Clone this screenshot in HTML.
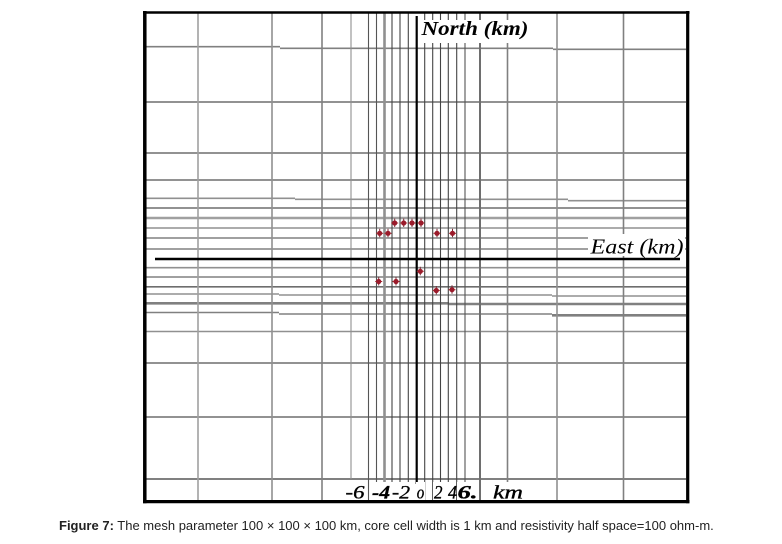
<!DOCTYPE html>
<html>
<head>
<meta charset="utf-8">
<style>
  html,body{margin:0;padding:0;background:#fff;}
  body{width:782px;height:544px;overflow:hidden;position:relative;}
  svg{position:absolute;left:0;top:0;}
</style>
</head>
<body>
<svg width="782" height="544" viewBox="0 0 782 544" xmlns="http://www.w3.org/2000/svg">
  <rect x="0" y="0" width="782" height="544" fill="#fff"/>

  <!-- Horizontal grid lines -->
  <g fill="none">
    <path d="M146 46.7 H280 M280 48.3 H553 M553 49.3 H686" stroke="#808080" stroke-width="1.6"/>
    <line x1="146" y1="102" x2="686" y2="102" stroke="#6e6e6e" stroke-width="1.6"/>
    <line x1="146" y1="153" x2="686" y2="153" stroke="#6e6e6e" stroke-width="1.6"/>
    <line x1="146" y1="180" x2="686" y2="180" stroke="#6e6e6e" stroke-width="1.6"/>
    <path d="M146 198.3 H295 M295 199.3 H568 M568 200.7 H686" stroke="#909090" stroke-width="1.6"/>
    <line x1="146" y1="208" x2="686" y2="208" stroke="#6e6e6e" stroke-width="1.6"/>
    <line x1="146" y1="218" x2="686" y2="218" stroke="#a0a0a0" stroke-width="2.6"/>
    <line x1="146" y1="228" x2="686" y2="228" stroke="#909090" stroke-width="1.6"/>
    <line x1="146" y1="238" x2="686" y2="238" stroke="#808080" stroke-width="1.6"/>
    <line x1="146" y1="249" x2="686" y2="249" stroke="#808080" stroke-width="1.6"/>
    <line x1="146" y1="267.7" x2="686" y2="267.7" stroke="#909090" stroke-width="1.6"/>
    <line x1="146" y1="277" x2="686" y2="277" stroke="#808080" stroke-width="1.6"/>
    <line x1="146" y1="286.8" x2="686" y2="286.8" stroke="#6e6e6e" stroke-width="1.6"/>
    <path d="M146 294 H279 M279 295 H552 M552 296 H686" stroke="#909090" stroke-width="1.6"/>
    <path d="M146 303.3 H449 M449 304 H686" stroke="#808080" stroke-width="2.6"/>
    <path d="M146 312.5 H279 M279 314 H552" stroke="#808080" stroke-width="1.6"/>
    <path d="M552 315.3 H686" stroke="#808080" stroke-width="2.6"/>
    <line x1="146" y1="331.5" x2="686" y2="331.5" stroke="#909090" stroke-width="1.6"/>
    <line x1="146" y1="363" x2="686" y2="363" stroke="#6e6e6e" stroke-width="1.6"/>
    <line x1="146" y1="417" x2="686" y2="417" stroke="#6e6e6e" stroke-width="1.6"/>
    <line x1="146" y1="479" x2="686" y2="479" stroke="#808080" stroke-width="2"/>
  </g>

  <!-- Vertical grid lines -->
  <g fill="none">
    <line x1="198" y1="13" x2="198" y2="500" stroke="#a0a0a0" stroke-width="1.6"/>
    <line x1="272" y1="13" x2="272" y2="500" stroke="#909090" stroke-width="1.6"/>
    <line x1="322" y1="13" x2="322" y2="500" stroke="#808080" stroke-width="1.6"/>
    <line x1="351" y1="13" x2="351" y2="479" stroke="#909090" stroke-width="1.1"/>
    <line x1="368.5" y1="13" x2="368.5" y2="500" stroke="#555" stroke-width="1.1"/>
    <line x1="376.5" y1="13" x2="376.5" y2="500" stroke="#555" stroke-width="1.1"/>
    <line x1="384.5" y1="13" x2="384.5" y2="500" stroke="#909090" stroke-width="2.6"/>
    <line x1="392" y1="13" x2="392" y2="500" stroke="#444" stroke-width="1.1"/>
    <line x1="400" y1="13" x2="400" y2="500" stroke="#444" stroke-width="1.1"/>
    <line x1="408.3" y1="13" x2="408.3" y2="500" stroke="#444" stroke-width="1.1"/>
    <line x1="424.7" y1="13" x2="424.7" y2="500" stroke="#444" stroke-width="1.1"/>
    <line x1="432.7" y1="13" x2="432.7" y2="500" stroke="#444" stroke-width="1.1"/>
    <line x1="440.5" y1="13" x2="440.5" y2="500" stroke="#444" stroke-width="1.1"/>
    <line x1="448.3" y1="13" x2="448.3" y2="500" stroke="#444" stroke-width="1.1"/>
    <line x1="456.7" y1="13" x2="456.7" y2="500" stroke="#444" stroke-width="1.1"/>
    <line x1="465" y1="13" x2="465" y2="500" stroke="#555" stroke-width="1.1"/>
    <line x1="480" y1="13" x2="480" y2="500" stroke="#6e6e6e" stroke-width="2"/>
    <line x1="507.5" y1="13" x2="507.5" y2="500" stroke="#808080" stroke-width="1.6"/>
    <line x1="557" y1="13" x2="557" y2="500" stroke="#909090" stroke-width="1.6"/>
    <line x1="623.5" y1="13" x2="623.5" y2="500" stroke="#808080" stroke-width="1.6"/>
  </g>

  <!-- Axes -->
  <line x1="155" y1="259" x2="680" y2="259" stroke="#000" stroke-width="2.5"/>
  <line x1="416.7" y1="16" x2="416.7" y2="484" stroke="#000" stroke-width="2.2"/>

  <!-- Label backgrounds -->
  <rect x="420" y="20" width="110" height="23" fill="#fff"/>
  <rect x="588" y="234" width="97" height="22" fill="#fff"/>
  <g fill="#fff">
    <rect x="344" y="482" width="23" height="18"/>
    <rect x="371" y="482" width="19" height="18"/>
    <rect x="391" y="482" width="20" height="18"/>
    <rect x="416" y="482" width="9" height="18"/>
    <rect x="433" y="482" width="10" height="18"/>
    <rect x="447" y="482" width="9" height="18"/>
    <rect x="457" y="482" width="22" height="18"/>
    <rect x="489" y="482" width="37" height="18"/>
  </g>

  <!-- Axis labels -->
  <text x="421.5" y="35" font-family="'Liberation Serif', serif" font-style="italic" font-weight="bold" font-size="20" fill="#000" textLength="107" lengthAdjust="spacingAndGlyphs">North (km)</text>
  <text x="590.5" y="253.5" font-family="'Liberation Serif', serif" font-style="italic" font-size="21" fill="#000" textLength="93" lengthAdjust="spacingAndGlyphs">East (km)</text>

  <g font-family="'Liberation Serif', serif" font-style="italic" font-size="19" fill="#000" stroke="#000" stroke-width="0.35">
    <text x="345.5" y="498.5" textLength="19" lengthAdjust="spacingAndGlyphs">-6</text>
    <text x="372" y="498.5" textLength="18" lengthAdjust="spacingAndGlyphs" font-weight="bold">-4</text>
    <text x="392" y="498.5" textLength="18" lengthAdjust="spacingAndGlyphs">-2</text>
    <text x="416.8" y="498.5" textLength="7.5" lengthAdjust="spacingAndGlyphs">o</text>
    <text x="434" y="498.5" textLength="8.5" lengthAdjust="spacingAndGlyphs">2</text>
    <text x="448" y="498.5" textLength="9" lengthAdjust="spacingAndGlyphs">4</text>
    <text x="457.5" y="498.5" textLength="20" lengthAdjust="spacingAndGlyphs" font-weight="bold">6.</text>
    <text x="493" y="498.5" textLength="30" lengthAdjust="spacingAndGlyphs">km</text>
  </g>

  <!-- Frame -->
  <line x1="143" y1="12.5" x2="689.5" y2="12.5" stroke="#000" stroke-width="2.5"/>
  <line x1="143" y1="501.6" x2="689.5" y2="501.6" stroke="#000" stroke-width="3.2"/>
  <line x1="144.8" y1="11" x2="144.8" y2="503.2" stroke="#000" stroke-width="3.5"/>
  <line x1="687.7" y1="11" x2="687.7" y2="503.2" stroke="#000" stroke-width="3.2"/>

  <!-- Markers -->
  <g>
    <defs>
      <g id="mk">
        <line x1="0" y1="-4.5" x2="0" y2="4" stroke="#7a2a35" stroke-width="1"/>
        <line x1="-3.5" y1="0" x2="3.5" y2="0" stroke="#a33" stroke-width="1"/>
        <circle cx="0" cy="0" r="2.6" fill="#9b1b2b"/>
      </g>
    </defs>
    <use href="#mk" x="394.7" y="223"/>
    <use href="#mk" x="403.7" y="223"/>
    <use href="#mk" x="412" y="223"/>
    <use href="#mk" x="421" y="223"/>
    <use href="#mk" x="379.7" y="233.3"/>
    <use href="#mk" x="388" y="233.3"/>
    <use href="#mk" x="437" y="233.3"/>
    <use href="#mk" x="452.5" y="233.3"/>
    <use href="#mk" x="420.3" y="271.3"/>
    <use href="#mk" x="378.7" y="281.5"/>
    <use href="#mk" x="396" y="281.5"/>
    <use href="#mk" x="436.3" y="290.5"/>
    <use href="#mk" x="452" y="289.7"/>
  </g>

  <!-- Caption -->
  <text x="59" y="530" font-family="'Liberation Sans', Arial, sans-serif" font-size="13" fill="#222"><tspan font-weight="bold">Figure 7:</tspan> The mesh parameter 100 × 100 × 100 km, core cell width is 1 km and resistivity half space=100 ohm-m.</text>
</svg>
</body>
</html>
